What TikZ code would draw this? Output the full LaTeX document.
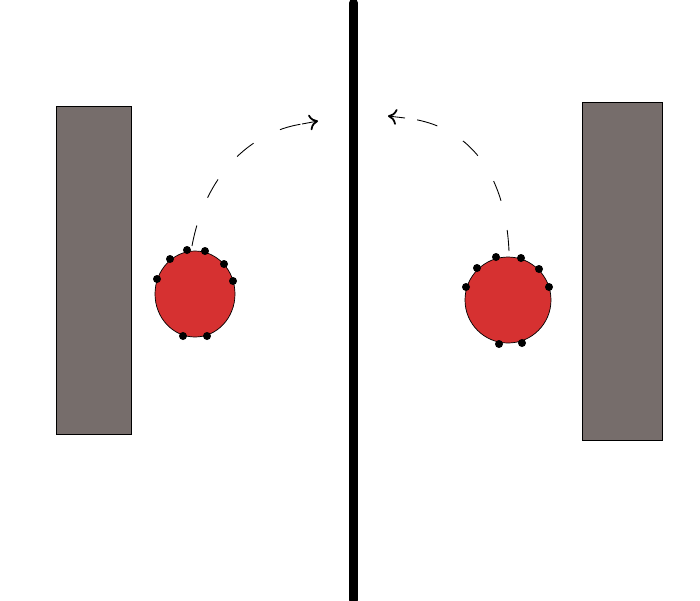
\documentclass[tikz,border=0pt]{standalone}
\usepackage{tikz}
\usetikzlibrary{arrows.meta}

\definecolor{blockgray}{HTML}{766D6B}
\definecolor{ballred}{HTML}{D63131}

\tikzset{
    block/.style={draw=black, fill=blockgray, line width=0.5pt},
    ball/.style={draw=black, fill=ballred, line width=0.4pt},
    marker/.style={fill=black},
    path line/.style={line width=0.5pt, dash pattern=on 12 off 17},
    path tip/.style={line width=0.5pt, -{To[length=5pt,width=9pt,line width=1pt]}}
}

\begin{document}
\begin{tikzpicture}[x=0.02cm, y=-0.02cm]
    \useasboundingbox (0,0) rectangle (700,600);

    % Wall in the middle
    \draw[line width=9*0.02cm, line cap=round] (353.5,3) -- (353.5,600);

    % Blocks
    \draw[block] (56,106) rectangle (131,434);

    \draw[block] (582,102) rectangle (662,440);

    % Left ball and its markers
    \draw[ball] (195,294) ellipse [x radius=40, y radius=43];
    \foreach \px/\py in {157/279, 170/259, 187/250, 205/251, 224/264, 233/281, 183/336, 207/336}
        \fill[marker] (\px,\py) circle [radius=4];

    % Right ball and its markers
    \draw[ball] (508,300) ellipse [x radius=43, y radius=43];
    \foreach \px/\py in {466/287, 477/268, 496/257, 521/258, 539/269, 549/287, 499/344, 522/343}
        \fill[marker] (\px,\py) circle [radius=4];

    % Movement paths
    \coordinate (leftstart) at (192,246);
    \coordinate (leftstem) at (302,124);
    \coordinate (leftend) at (318,121);
    \draw[path line] (leftstart) .. controls (205,175) and (250,132) .. (leftstem);
    \draw[path tip] (leftstem) -- (leftend);

    \coordinate (rightstart) at (509,251);
    \coordinate (rightstem) at (405,118);
    \coordinate (rightend) at (388,116);
    \draw[path line] (rightstart) .. controls (505,165) and (462,124) .. (rightstem);
    \draw[path tip] (rightstem) -- (rightend);
\end{tikzpicture}
\end{document}
